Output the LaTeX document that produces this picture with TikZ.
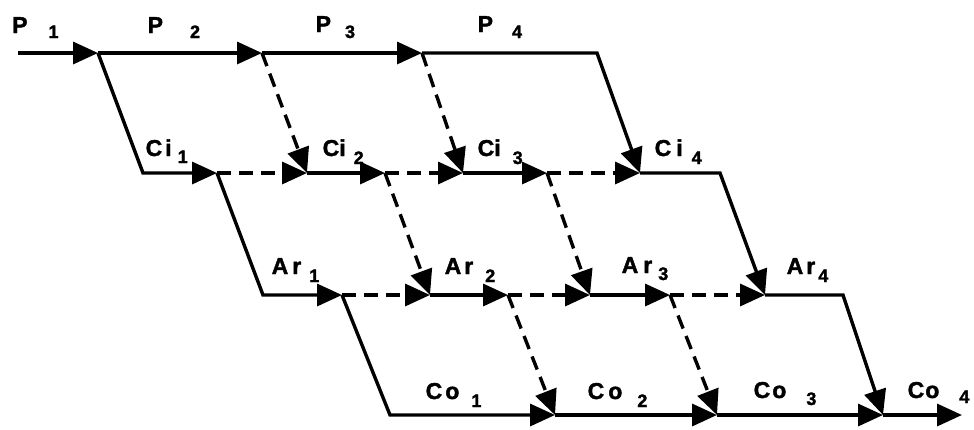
\documentclass[tikz,border=0pt]{standalone}
\usepackage{fontspec}
\setmainfont{Liberation Sans}[BoldFeatures={FakeBold=1.6}]
\usetikzlibrary{arrows.meta}
\newcommand\sbs[3]{\kern#1pt\raisebox{-#2pt}{\fontsize{18}{18}\selectfont #3}}
\begin{document}
\begin{tikzpicture}[x=1pt,y=-1pt,line width=3.4pt,
  arr/.style={-{Triangle[length=25pt,width=22pt]}},
  dsh/.style={dash pattern=on 14pt off 8pt},
  lbl/.style={anchor=base west,inner sep=0pt,font=\fontsize{23}{23}\selectfont\bfseries}]
\useasboundingbox (0,0) rectangle (974,429);
% top row
\coordinate (S) at (18,53);
\coordinate (P1) at (98,53);
\coordinate (P2) at (262,53);
\coordinate (P3) at (422,53);
\coordinate (T4) at (597,53);
% Ci row
\coordinate (C1a) at (143,173);
\coordinate (C1b) at (217,173);
\coordinate (C2a) at (307,173);
\coordinate (C2b) at (385,173);
\coordinate (C3a) at (463,173);
\coordinate (C3b) at (547,173);
\coordinate (C4a) at (640,173);
\coordinate (C4b) at (720,173);
% Ar row
\coordinate (A1a) at (263,295);
\coordinate (A1b) at (342,295);
\coordinate (A2a) at (430,295);
\coordinate (A2b) at (508,295);
\coordinate (A3a) at (590,295);
\coordinate (A3b) at (670,295);
\coordinate (A4a) at (765,295);
\coordinate (A4b) at (843,295);
% Co row
\coordinate (O1a) at (390,415);
\coordinate (O2a) at (555,415);
\coordinate (O3a) at (717,415);
\coordinate (O4a) at (883,415);
\coordinate (E) at (962,415);
% solid paths
\draw[arr] (S) -- (P1);
\draw[arr] (P1) -- (P2);
\draw[arr] (P2) -- (P3);
\draw[arr] (P3) -- (T4) -- (C4a);
\draw[arr] (P1) -- (C1a) -- (C1b);
\draw[arr] (C1b) -- (A1a) -- (A1b);
\draw[arr] (A1b) -- (O1a) -- (O2a);
\draw[arr] (C4a) -- (C4b) -- (A4a);
\draw[arr] (A4a) -- (A4b) -- (O4a);
\draw[arr] (C2a) -- (C2b);
\draw[arr] (C3a) -- (C3b);
\draw[arr] (A2a) -- (A2b);
\draw[arr] (A3a) -- (A3b);
\draw[arr] (O2a) -- (O3a);
\draw[arr] (O3a) -- (O4a);
\draw[arr] (O4a) -- (E);
% dashed paths
\draw[arr,dsh] (P2) -- (C2a);
\draw[arr,dsh] (P3) -- (C3a);
\draw[arr,dsh] (C1b) -- (C2a);
\draw[arr,dsh] (C2b) -- (C3a);
\draw[arr,dsh] (C3b) -- (C4a);
\draw[arr,dsh] (C2b) -- (A2a);
\draw[arr,dsh] (C3b) -- (A3a);
\draw[arr,dsh] (A1b) -- (A2a);
\draw[arr,dsh] (A2b) -- (A3a);
\draw[arr,dsh] (A3b) -- (A4a);
\draw[arr,dsh] (A2b) -- (O2a);
\draw[arr,dsh] (A3b) -- (O3a);
% labels
\node[lbl] (lP1) at (10.5,33) {P\sbs{21}{5}{1}};
\node[lbl] (lP2) at (146,33) {P\sbs{27}{5}{2}};
\node[lbl] (lP3) at (314,32) {P\sbs{14}{6}{3}};
\node[lbl] (lP4) at (476,32) {P\sbs{19}{6}{4}};
\node[lbl] (lC1) at (144,156) {C\kern3pt i\sbs{6}{7}{1}};
\node[lbl] (lC2) at (321,156) {Ci\sbs{8}{8}{2}};
\node[lbl] (lC3) at (476,156) {Ci\sbs{12}{8}{3}};
\node[lbl] (lC4) at (653,156) {C\kern5pt i\sbs{9}{8}{4}};
\node[lbl] (lA1) at (270,274) {A\kern4pt r\sbs{8}{8}{1}};
\node[lbl] (lA2) at (443,274) {A\kern3pt r\sbs{12}{8}{2}};
\node[lbl] (lA3) at (620,273) {A\kern5pt r\sbs{6}{7}{3}};
\node[lbl] (lA4) at (785,274) {A\kern3pt r\sbs{3}{8}{4}};
\node[lbl] (lO1) at (424,399) {C\kern3pt o\sbs{12}{8}{1}};
\node[lbl] (lO2) at (586,399) {C\kern4pt o\sbs{15}{8}{2}};
\node[lbl] (lO3) at (752,398) {C\kern2pt o\sbs{20}{7}{3}};
\node[lbl] (lO4) at (906,398) {C\kern1pt o\sbs{20}{5}{4}};
\end{tikzpicture}
\end{document}
